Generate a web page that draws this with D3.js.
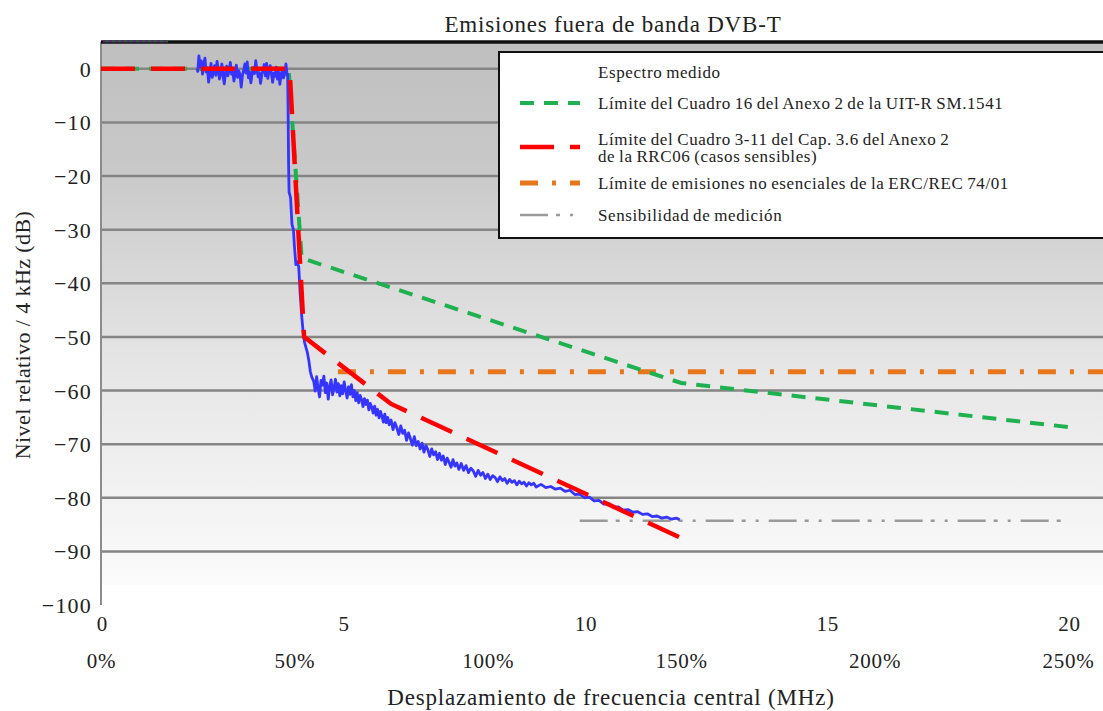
<!DOCTYPE html>
<html>
<head>
<meta charset="utf-8">
<script src="https://cdn.jsdelivr.net/npm/d3@7"></script>
<style>
  html, body { margin: 0; padding: 0; background: #ffffff; }
  svg { display: block; }
</style>
</head>
<body>
<svg id="chart" width="1103" height="711" font-family="Liberation Serif"></svg>
<script>
// ---------------- data ----------------
const chartTitle = "Emisiones fuera de banda DVB-T";
const xTitle = "Desplazamiento de frecuencia central (MHz)";
const yTitle = "Nivel relativo / 4 kHz (dB)";

const freqTicks = [0, 5, 10, 15, 20];
const pctTicks = [0, 50, 100, 150, 200, 250];
const levelTicks = [0, -10, -20, -30, -40, -50, -60, -70, -80, -90, -100];
const gridLevels = [0, -10, -20, -30, -40, -50, -60, -70, -80, -90];

const legendLabels = [
  ["Espectro medido"],
  ["Límite del Cuadro 16 del Anexo 2 de la UIT-R SM.1541"],
  ["Límite del Cuadro 3-11 del Cap. 3.6 del Anexo 2", "de la RRC06 (casos sensibles)"],
  ["Límite de emisiones no esenciales de la ERC/REC 74/01"],
  ["Sensibilidad de medición"]
];

// Limit of Table 16, Annex 2, ITU-R SM.1541
const smMHz = [0, 3.88, 4.15, 12, 20];
const smDb  = [0, 0, -35.3, -58.6, -66.8];
// Limit of Table 3-11, RRC06 (sensitive cases)
const rrcMHz = [0, 3.9, 4.2, 6, 12];
const rrcDb  = [0, 0, -50, -62.5, -87.5];
// ERC/REC 74-01 spurious limit
const ercMHz = [4.9, 20.8];
const ercDb  = [-56.5, -56.5];
// Measurement sensitivity
const sensMHz = [9.9, 19.95];
const sensDb  = [-84.3, -84.3];

// Measured spectrum [MHz, dB]
const measured = [
  [1.99,0.0],[2.000,-0.5],[2.025,2.4],[2.050,0.3],[2.075,1.5],[2.100,-1.0],[2.125,0.8],[2.150,2.0],
  [2.175,-0.6],[2.200,0.2],[2.225,-2.5],[2.250,-0.9],[2.275,1.0],[2.300,-1.6],[2.325,-0.4],[2.350,0.6],
  [2.375,-1.2],[2.400,1.4],[2.425,-0.3],[2.450,-1.9],[2.475,-0.8],[2.500,0.9],[2.525,-1.4],[2.550,-2.8],
  [2.575,-0.7],[2.600,0.5],[2.625,-1.3],[2.650,-0.2],[2.675,1.2],[2.700,-1.0],[2.725,-0.5],[2.750,-2.3],
  [2.775,-0.9],[2.800,0.7],[2.825,-1.6],[2.850,-0.4],[2.875,-1.1],[2.900,-3.4],[2.925,-1.2],[2.950,-0.3],
  [2.975,0.9],[3.000,-0.8],[3.025,1.3],[3.050,-1.7],[3.075,-0.6],[3.100,-2.6],[3.125,-1.0],[3.150,0.2],
  [3.175,-0.9],[3.200,1.5],[3.225,-0.2],[3.250,-1.5],[3.275,-0.7],[3.300,-2.7],[3.325,-1.1],[3.350,-0.3],
  [3.375,0.8],[3.400,-1.3],[3.425,1.0],[3.450,-1.8],[3.475,-0.5],[3.500,0.6],[3.525,-1.0],[3.550,-2.5],
  [3.575,-0.8],[3.600,-1.4],[3.625,0.3],[3.650,-1.9],[3.675,-0.6],[3.700,-2.9],[3.725,-1.0],[3.750,-0.4],
  [3.775,-1.7],[3.800,-0.8],[3.825,0.9],[3.850,-1.2],
  [3.86,-1.0],[3.87,-8],[3.88,-18],[3.89,-23],[3.92,-24],[3.95,-29],[3.98,-30],[4.00,-33],
  [4.03,-36.5],[4.06,-36.0],[4.09,-37],[4.12,-42],[4.15,-46],[4.18,-49],[4.21,-51],[4.24,-52],
  [4.27,-53],[4.30,-54.5],[4.33,-56.5],[4.36,-57.5],
  [4.40,-58.3],[4.43,-60.1],[4.46,-57.4],[4.49,-59.6],[4.52,-61.2],[4.55,-58.1],[4.58,-59.0],[4.61,-57.3],
  [4.64,-60.4],[4.67,-58.6],[4.70,-61.6],[4.73,-59.2],[4.76,-58.0],[4.79,-60.8],[4.82,-59.5],[4.85,-57.9],
  [4.88,-60.3],[4.91,-58.7],[4.94,-61.0],[4.97,-59.1],[5.00,-60.6],[5.03,-58.4],[5.06,-60.0],[5.09,-61.4],
  [5.12,-59.3],[5.15,-60.7],[5.18,-58.9],[5.21,-61.2],[5.24,-60.0],[5.27,-61.9],[5.30,-60.4],[5.33,-62.3],
  [5.36,-60.9],[5.39,-61.7],[5.42,-63.0],[5.45,-61.5],[5.48,-62.6],[5.51,-61.8],[5.54,-63.6],[5.57,-62.4],
  [5.60,-63.1],[5.63,-64.2],[5.66,-62.9],[5.69,-64.6],[5.72,-63.5],[5.75,-65.1],[5.78,-63.9],[5.81,-64.8],
  [5.84,-65.9],[5.87,-64.4],[5.90,-66.0],[5.93,-65.0],[5.96,-66.4],[6.00,-65.5],[6.04,-67.3],[6.08,-66.0],
  [6.12,-67.0],[6.16,-68.2],[6.20,-66.6],[6.24,-68.0],[6.28,-67.4],[6.32,-69.3],[6.36,-67.9],[6.40,-69.0],
  [6.44,-70.2],[6.48,-68.6],[6.52,-70.3],[6.56,-69.5],[6.60,-70.9],[6.64,-69.8],[6.68,-71.5],[6.72,-70.3],
  [6.76,-71.0],[6.80,-72.3],[6.84,-70.9],[6.88,-72.0],[6.92,-71.4],[6.96,-72.9],[7.00,-71.7],[7.04,-73.0],
  [7.08,-72.2],[7.12,-73.8],[7.16,-72.6],[7.20,-73.4],[7.24,-74.3],[7.28,-72.9],[7.32,-74.1],[7.36,-73.5],
  [7.40,-74.7],[7.45,-73.6],[7.50,-74.9],[7.55,-74.0],[7.60,-75.3],[7.65,-74.5],[7.70,-75.0],[7.75,-76.0],
  [7.80,-74.9],[7.85,-75.8],[7.90,-75.3],[7.95,-76.4],[8.00,-75.6],[8.05,-76.6],[8.10,-75.9],[8.15,-76.2],
  [8.20,-77.0],[8.25,-76.1],[8.30,-76.8],[8.35,-76.4],[8.40,-77.3],[8.45,-76.6],[8.50,-77.1],[8.55,-76.8],
  [8.60,-77.6],[8.65,-76.9],[8.70,-77.4],[8.75,-77.1],[8.80,-77.8],[8.85,-77.2],[8.90,-77.6],[8.95,-77.3],
  [9.00,-78.0],[9.10,-77.5],[9.20,-78.1],[9.30,-77.9],[9.40,-78.4],[9.50,-78.2],[9.60,-78.8],[9.70,-78.6],
  [9.80,-79.4],[9.90,-79.3],[10.00,-80.0],[10.10,-79.9],[10.20,-80.6],[10.30,-80.5],[10.40,-81.2],[10.50,-81.1],
  [10.60,-81.8],[10.70,-81.7],[10.80,-82.3],[10.90,-82.2],[11.00,-82.7],[11.10,-82.6],[11.20,-83.1],[11.30,-83.0],
  [11.40,-83.5],[11.50,-83.4],[11.60,-83.8],[11.70,-83.6],[11.80,-84.0],[11.90,-83.8],[11.97,-84.1]
];

// ---------------- layout ----------------
const svg = d3.select("#chart");
const FONT = "Liberation Serif";
const TEXT = "#222222";
const plotLeft = 101, plotTop = 42, plotRight = 1103, plotBottom = 605;

const x = d3.scaleLinear().domain([0, 20]).range([101, 1068]);
const y = d3.scaleLinear().domain([-100, 5]).range([605, 42]);
// 100 % = 8 MHz channel
const xPct = d3.scaleLinear().domain([0, 250]).range([x(0), x(20)]);

const defs = svg.append("defs");
const grad = defs.append("linearGradient").attr("id", "bg").attr("x1", 0).attr("y1", 0).attr("x2", 0).attr("y2", 1);
grad.append("stop").attr("offset", "0%").attr("stop-color", "#bfbfbf");
grad.append("stop").attr("offset", "22%").attr("stop-color", "#c8c8c8");
grad.append("stop").attr("offset", "60%").attr("stop-color", "#e6e6e6");
grad.append("stop").attr("offset", "100%").attr("stop-color", "#fbfbfb");
defs.append("clipPath").attr("id", "clip").append("rect")
  .attr("x", plotLeft).attr("y", plotTop).attr("width", plotRight - plotLeft).attr("height", plotBottom - plotTop);

svg.append("rect").attr("x", plotLeft).attr("y", plotTop)
  .attr("width", plotRight - plotLeft).attr("height", 585 - plotTop).attr("fill", "url(#bg)");

// grid lines
svg.append("g").selectAll("line").data(gridLevels).join("line")
  .attr("x1", plotLeft).attr("x2", plotRight)
  .attr("y1", d => y(d)).attr("y2", d => y(d))
  .attr("stroke", "#858585").attr("stroke-width", 2.5);

// left axis line
svg.append("line").attr("x1", plotLeft).attr("x2", plotLeft).attr("y1", plotTop).attr("y2", plotBottom)
  .attr("stroke", "#8c8c8c").attr("stroke-width", 2);

// top bar
svg.append("line").attr("x1", plotLeft).attr("x2", plotRight).attr("y1", 42).attr("y2", 42)
  .attr("stroke", "#111").attr("stroke-width", 3.5);
svg.append("line").attr("x1", plotLeft + 2).attr("x2", 168).attr("y1", 41.5).attr("y2", 41.5)
  .attr("stroke", "#6a1a8a").attr("stroke-width", 2).attr("stroke-dasharray", "3,3");
svg.append("line").attr("x1", plotLeft + 5).attr("x2", 168).attr("y1", 41.5).attr("y2", 41.5)
  .attr("stroke", "#1a6a2a").attr("stroke-width", 2).attr("stroke-dasharray", "3,3");

function styleTicks(g, size, ls, dy) {
  g.attr("font-family", FONT);
  g.select(".domain").remove();
  g.selectAll("text").attr("font-family", FONT).attr("font-size", size).attr("letter-spacing", ls)
    .attr("fill", TEXT).attr("dy", dy);
}

// axes (labels only)
const yAxis = d3.axisLeft(y).tickValues(levelTicks).tickSize(0).tickPadding(0)
  .tickFormat(d => d < 0 ? "\u2212" + Math.abs(d) : String(d));
svg.append("g").attr("transform", "translate(92,0)").call(yAxis).call(g => styleTicks(g, 22, 1.2, "0.34em"));

const xAxis = d3.axisBottom(x).tickValues(freqTicks).tickSize(0).tickPadding(0).tickFormat(d => String(d));
svg.append("g").attr("transform", "translate(1,616)").call(xAxis).call(g => styleTicks(g, 21, 0.8, "0.71em"));

const pAxis = d3.axisBottom(xPct).tickValues(pctTicks).tickSize(0).tickPadding(0).tickFormat(d => d + "%");
svg.append("g").attr("transform", "translate(0,653)").call(pAxis).call(g => styleTicks(g, 21, 0.8, "0.71em"));

// titles
svg.append("text").attr("x", 613).attr("y", 32).attr("text-anchor", "middle").attr("font-family", FONT)
  .attr("fill", TEXT).attr("font-size", 23).attr("letter-spacing", 0.8).text(chartTitle);
svg.append("text").attr("x", 611).attr("y", 705).attr("text-anchor", "middle").attr("font-family", FONT)
  .attr("fill", TEXT).attr("font-size", 23).attr("letter-spacing", 0.8).text(xTitle);
svg.append("text").attr("transform", "translate(30,335) rotate(-90)").attr("text-anchor", "middle")
  .attr("font-family", FONT).attr("fill", TEXT).attr("font-size", 22).attr("letter-spacing", 0.4).text(yTitle);

// series
const plot = svg.append("g").attr("clip-path", "url(#clip)");
const line = d3.line().x(d => x(d[0])).y(d => y(d[1]));
const zip = (a, b) => a.map((v, i) => [v, b[i]]);

const styles = {
  measured: { color: "#3535ff", width: 2.8, dash: null },
  sm: { color: "#1fb150", width: 4, dash: "14,10" },
  rrc: { color: "#ff0000", width: 4.5, dash: "34,16" },
  erc: { color: "#e8761a", width: 5, dash: "18,14,4,14" },
  sens: { color: "#9a9a9a", width: 2.6, dash: "28,8,4,10,3,10" }
};

plot.append("path").datum(zip(ercMHz, ercDb)).attr("d", line).attr("fill", "none")
  .attr("stroke", styles.erc.color).attr("stroke-width", styles.erc.width).attr("stroke-dasharray", styles.erc.dash);
plot.append("path").datum(zip(sensMHz, sensDb)).attr("d", line).attr("fill", "none")
  .attr("stroke", styles.sens.color).attr("stroke-width", styles.sens.width).attr("stroke-dasharray", styles.sens.dash);
plot.append("path").datum(zip(smMHz, smDb)).attr("d", line).attr("fill", "none")
  .attr("stroke", styles.sm.color).attr("stroke-width", styles.sm.width).attr("stroke-dasharray", styles.sm.dash);
plot.append("path").datum(measured).attr("d", line).attr("fill", "none")
  .attr("stroke", styles.measured.color).attr("stroke-width", styles.measured.width).attr("stroke-linejoin", "round");
plot.append("path").datum(zip(rrcMHz, rrcDb)).attr("d", line).attr("fill", "none")
  .attr("stroke", styles.rrc.color).attr("stroke-width", styles.rrc.width).attr("stroke-dasharray", styles.rrc.dash);

// legend
const lg = svg.append("g");
lg.append("rect").attr("x", 499).attr("y", 52).attr("width", 640).attr("height", 186)
  .attr("fill", "#ffffff").attr("stroke", "#111").attr("stroke-width", 2);
const legendKeys = ["measured", "sm", "rrc", "erc", "sens"];
const rowY = [72, 103, 147, 183, 215];
legendKeys.forEach((k, i) => {
  const s = styles[k];
  if (k !== "measured") {
    lg.append("line").attr("x1", 520).attr("x2", 580).attr("y1", rowY[i]).attr("y2", rowY[i])
      .attr("stroke", s.color).attr("stroke-width", s.width).attr("stroke-dasharray", s.dash);
  }
  const lines = legendLabels[i];
  const t = lg.append("text").attr("x", 598).attr("font-family", FONT).attr("fill", TEXT)
    .attr("font-size", 17).attr("letter-spacing", 0.6).attr("word-spacing", -1);
  lines.forEach((ln, j) => {
    t.append("tspan").attr("x", 598)
      .attr("y", rowY[i] + 6 + (j - (lines.length - 1) / 2) * 17)
      .text(ln);
  });
});
</script>
</body>
</html>
